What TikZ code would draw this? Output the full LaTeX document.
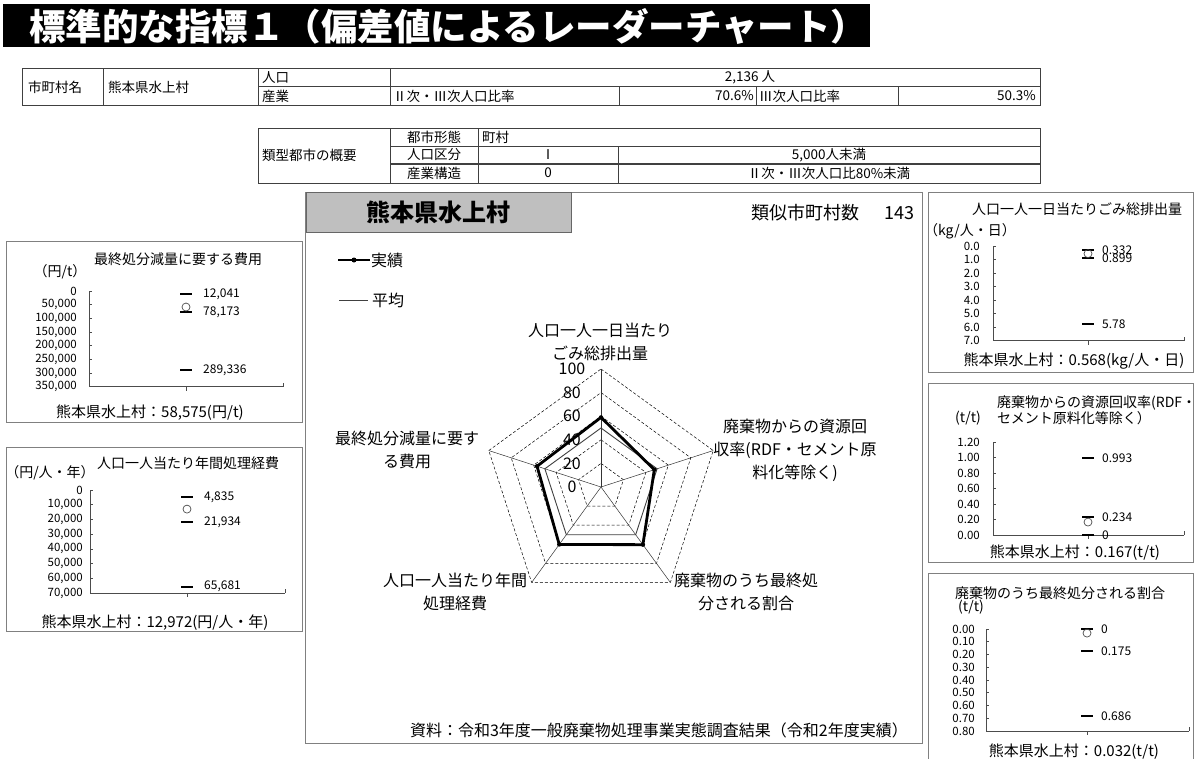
\documentclass[tikz,border=0pt]{standalone}
\usepackage{fontspec}
\setmainfont{Noto Sans CJK JP}
\usetikzlibrary{positioning}
\newcommand{\fsz}[1]{\fontsize{#1}{#1}\selectfont}
\tikzset{
	tline/.style={draw=black!75, line width=0.7pt},
	cellt/.style={inner sep=0pt, font=\fsz{13.5}},
	chartbox/.style={draw=black!50, line width=0.9pt},
	ctitle/.style={inner sep=0pt, font=\fsz{14}},
	cfoot/.style={inner sep=0pt, font=\fsz{15}},
	yval/.style={inner sep=0pt, anchor=east, font=\fsz{11.5}},
	dlabel/.style={inner sep=0pt, anchor=west, font=\fsz{12}},
	axisline/.style={draw=black!70, line width=0.6pt},
	barmark/.style={line width=2pt, black},
	ringmark/.style={draw=black!70, line width=0.7pt},
	ringline/.style={black, densely dashed, line width=0.5pt},
	spoke/.style={black!80, line width=0.5pt},
	actual/.style={black, line width=2.8pt, line join=miter},
	average/.style={black!75, line width=0.9pt},
	rlabel/.style={inner sep=0pt, align=center, font=\fontsize{16}{23}\selectfont},
	scalelab/.style={inner sep=0pt, font=\fsz{16}},
	legtxt/.style={inner sep=0pt, anchor=west, font=\fsz{16}}
}
\begin{document}
\begin{tikzpicture}[x=1pt, y=-1pt]
	\useasboundingbox (0,0) rectangle (1197,758);
	\fill[white] (0,0) rectangle (1197,758);
	\fill[black] (3,4) rectangle (870,47);
	\node[anchor=west, inner sep=0pt, text=white, font=\bfseries\fsz{36.5}] (heading) at (29,26) {標準的な指標１（偏差値によるレーダーチャート）};

	\draw[tline] (22,68) rectangle (1040,105);
	\draw[tline] (258,86.5) -- (1040,86.5);
	\draw[tline] (103,68) -- (103,105) (258,68) -- (258,105) (390,68) -- (390,105);
	\draw[tline] (619,86.5) -- (619,105) (756,86.5) -- (756,105) (898,86.5) -- (898,105);
	\node[cellt, anchor=west] (c-name) at (28,87) {市町村名};
	\node[cellt, anchor=west] (c-city) at (108,87) {熊本県水上村};
	\node[cellt, anchor=west] (c-pop) at (262,77.5) {人口};
	\node[cellt, anchor=west] (c-ind) at (262,96) {産業};
	\node[cellt] (c-popval) at (750,77.5) {2,136 人};
	\node[cellt, anchor=west] (c-r23) at (393,96) {Ⅱ次・Ⅲ次人口比率};
	\node[cellt, anchor=east] (c-r23val) at (754,96) {70.6\%};
	\node[cellt, anchor=west] (c-r3) at (759,96) {Ⅲ次人口比率};
	\node[cellt, anchor=east] (c-r3val) at (1036,96) {50.3\%};

	\draw[tline] (258,128) rectangle (1040,183);
	\draw[tline] (390,146) -- (1040,146);
	\draw[tline, line width=1.3pt] (390,164) -- (1040,164);
	\draw[tline] (390,128) -- (390,183) (478,128) -- (478,183) (618,146) -- (618,183);
	\node[cellt, anchor=west] (t-head) at (262,155) {類型都市の概要};
	\node[cellt] (t-form) at (434,137) {都市形態};
	\node[cellt, anchor=west] (t-formval) at (482,137) {町村};
	\node[cellt] (t-popcls) at (434,155) {人口区分};
	\node[cellt] (t-popcls1) at (548,155) {Ⅰ};
	\node[cellt] (t-popcls2) at (829,155) {5,000人未満};
	\node[cellt] (t-indcls) at (434,173) {産業構造};
	\node[cellt] (t-indcls1) at (548,173) {0};
	\node[cellt] (t-indcls2) at (829,173) {Ⅱ次・Ⅲ次人口比80\%未満};

	\draw[chartbox] (305,192) rectangle (922,743);
	\filldraw[fill=black!25, draw=black!60, line width=0.9pt] (306,192) rectangle (571,232);
	\node[font=\bfseries\fsz{24}, inner sep=0pt] (city) at (438.5,212) {熊本県水上村};
	\node[anchor=east, inner sep=0pt, font=\fsz{18}] (similar) at (915,213) {類似市町村数\hspace{1.4em}143};
	\draw[actual] (338,260) -- (370,260);
	\fill (354,260) circle (2.5pt);
	\node[legtxt] (leg-actual) at (371,260) {実績};
	\draw[average] (339,300) -- (368,300);
	\node[legtxt] (leg-avg) at (372,300) {平均};
	\begin{scope}[shift={(601,487)}, x=1.18pt, y=1.18pt]
		\foreach \r in {20,40,...,100}
			\draw[ringline] (90:\r) -- (18:\r) -- (-54:\r) -- (-126:\r) -- (162:\r) -- cycle;
		\foreach \a in {90,18,-54,-126,162}
			\draw[spoke] (0,0) -- (\a:100);
		\draw[average] (90:50) -- (18:50) -- (-54:50) -- (-126:50) -- (162:50) -- cycle;
		\draw[actual] (90:59) -- (18:47.5) -- (-54:60.4) -- (-126:60.2) -- (162:57) -- cycle;
		\foreach \a/\v in {90/59,18/47.5,-54/60.4,-126/60.2,162/57}
			\fill (\a:\v) circle (2.2pt);
		\foreach \v in {0,20,...,100}
			\node[scalelab] (s\v) at (-24.6,\v) {\v};
	\end{scope}
	\node[rlabel] (ax-top) at (600,342) {人口一人一日当たり\\ごみ総排出量};
	\node[rlabel] (ax-right) at (795,450) {廃棄物からの資源回\\収率(RDF・セメント原\\料化等除く)};
	\node[rlabel] (ax-bright) at (746,591.5) {廃棄物のうち最終処\\分される割合};
	\node[rlabel] (ax-bleft) at (455,591.5) {人口一人当たり年間\\処理経費};
	\node[rlabel] (ax-left) at (407,449.5) {最終処分減量に要す\\る費用};
	\node[anchor=east, inner sep=0pt, font=\fsz{16}] (source) at (908,730) {資料：令和3年度一般廃棄物処理事業実態調査結果（令和2年度実績）};

	\draw[chartbox] (6,241) rectangle (302,422);
	\node[ctitle] (a-title) at (178,259) {最終処分減量に要する費用};
	\node[ctitle] (a-unit) at (60,272) {（円/t）};
	\begin{scope}[shift={(0,291)}, y={(0,-13.67pt)}]
		\foreach \lab [count=\i from 0] in {0,{50,000},{100,000},{150,000},{200,000},{250,000},{300,000},{350,000}}
			\node[yval] (a-y\i) at (77,\i) {\lab};
		\foreach \i in {0,...,7}
			\draw[axisline] (89,\i) -- (92,\i);
		\draw[axisline] (89,0) -- (89,7) -- (283,7);
		\draw[axisline] (186,7) -- ++(0pt,-4pt) (283,7) -- ++(0pt,4pt);
		\draw[barmark] (180,0.2408) -- (192,0.2408) (180,1.5635) -- (192,1.5635) (180,5.7867) -- (192,5.7867);
		\draw[ringmark] (186,1.1715) circle (4pt);
		\node[dlabel] (a-d1) at (203,0.2408) {12,041};
		\node[dlabel] (a-d2) at (203,1.5635) {78,173};
		\node[dlabel] (a-d3) at (203,5.7867) {289,336};
	\end{scope}
	\node[cfoot] (a-foot) at (150,413) {熊本県水上村：58,575(円/t)};

	\draw[chartbox] (6,447) rectangle (302,631);
	\node[ctitle] (b-title) at (188,463) {人口一人当たり年間処理経費};
	\node[ctitle] (b-unit) at (50,473) {（円/人・年）};
	\begin{scope}[shift={(0,490)}, y={(0,-14.71pt)}]
		\foreach \lab [count=\i from 0] in {0,{10,000},{20,000},{30,000},{40,000},{50,000},{60,000},{70,000}}
			\node[yval] (b-y\i) at (83,\i) {\lab};
		\foreach \i in {0,...,7}
			\draw[axisline] (90,\i) -- (93,\i);
		\draw[axisline] (90,0) -- (90,7) -- (285,7);
		\draw[axisline] (187,7) -- ++(0pt,-4pt) (285,7) -- ++(0pt,4pt);
		\draw[barmark] (181,0.4835) -- (193,0.4835) (181,2.1934) -- (193,2.1934) (181,6.5681) -- (193,6.5681);
		\draw[ringmark] (187,1.2972) circle (4pt);
		\node[dlabel] (b-d1) at (204,0.4835) {4,835};
		\node[dlabel] (b-d2) at (204,2.1934) {21,934};
		\node[dlabel] (b-d3) at (204,6.5681) {65,681};
	\end{scope}
	\node[cfoot] (b-foot) at (155,623) {熊本県水上村：12,972(円/人・年)};

	\draw[chartbox] (928,192) rectangle (1193,372);
	\node[ctitle] (c-title) at (1077,209) {人口一人一日当たりごみ総排出量};
	\node[ctitle] (c-unit) at (970,231) {（kg/人・日）};
	\begin{scope}[shift={(0,246)}, y={(0,-13.5pt)}]
		\foreach \lab [count=\i from 0] in {0.0,1.0,2.0,3.0,4.0,5.0,6.0,7.0}
			\node[yval] (c-y\i) at (980,\i) {\lab};
		\foreach \i in {0,...,7}
			\draw[axisline] (993,\i) -- (996,\i);
		\draw[axisline] (993,0) -- (993,7) -- (1184,7);
		\draw[axisline] (1088,7) -- ++(0pt,-4pt) (1184,7) -- ++(0pt,4pt);
		\draw[barmark] (1082,0.332) -- (1094,0.332) (1082,0.899) -- (1094,0.899) (1082,5.78) -- (1094,5.78);
		\draw[ringmark] (1088,0.568) circle (4pt);
		\node[dlabel] (c-d1) at (1102,0.332) {0.332};
		\node[dlabel] (c-d2) at (1102,0.899) {0.899};
		\node[dlabel] (c-d3) at (1102,5.78) {5.78};
	\end{scope}
	\node[cfoot] (c-foot) at (1074,361) {熊本県水上村：0.568(kg/人・日)};

	\draw[chartbox] (928,383) rectangle (1193,562);
	\node[ctitle, anchor=west] (d-title1) at (997,403) {廃棄物からの資源回収率(RDF・};
	\node[ctitle, anchor=west] (d-title2) at (997,418) {セメント原料化等除く）};
	\node[ctitle] (d-unit) at (968,418) {(t/t)};
	\begin{scope}[shift={(0,535)}, y={(0,15.5pt)}]
		\foreach \lab [count=\i from 0] in {0.00,0.20,0.40,0.60,0.80,1.00,1.20}
			\node[yval] (d-y\i) at (980,\i) {\lab};
		\foreach \i in {0,...,6}
			\draw[axisline] (993,\i) -- (996,\i);
		\draw[axisline] (993,6) -- (993,0) -- (1184,0);
		\draw[axisline] (1088,0) -- ++(0pt,-4pt) (1184,0) -- ++(0pt,4pt);
		\draw[barmark] (1082,4.965) -- (1094,4.965) (1082,1.17) -- (1094,1.17) (1082,0) -- (1094,0);
		\draw[ringmark] (1088,0.835) circle (4pt);
		\node[dlabel] (d-d1) at (1102,4.965) {0.993};
		\node[dlabel] (d-d2) at (1102,1.17) {0.234};
		\node[dlabel] (d-d3) at (1102,0) {0};
	\end{scope}
	\node[cfoot] (d-foot) at (1075,553) {熊本県水上村：0.167(t/t)};

	\draw[chartbox] (928,573) rectangle (1193,770);
	\node[ctitle] (e-title) at (1060,593) {廃棄物のうち最終処分される割合};
	\node[ctitle] (e-unit) at (971,607) {(t/t)};
	\begin{scope}[shift={(0,629)}, y={(0,-12.75pt)}]
		\foreach \lab [count=\i from 0] in {0.00,0.10,0.20,0.30,0.40,0.50,0.60,0.70,0.80}
			\node[yval] (e-y\i) at (975,\i) {\lab};
		\foreach \i in {0,...,8}
			\draw[axisline] (986,\i) -- (989,\i);
		\draw[axisline] (986,0) -- (986,8) -- (1189,8);
		\draw[axisline] (1087,8) -- ++(0pt,-4pt) (1189,8) -- ++(0pt,4pt);
		\draw[barmark] (1081,0) -- (1093,0) (1081,1.75) -- (1093,1.75) (1081,6.86) -- (1093,6.86);
		\draw[ringmark] (1087,0.32) circle (4pt);
		\node[dlabel] (e-d1) at (1101,0) {0};
		\node[dlabel] (e-d2) at (1101,1.75) {0.175};
		\node[dlabel] (e-d3) at (1101,6.86) {0.686};
	\end{scope}
	\node[cfoot] (e-foot) at (1074,752) {熊本県水上村：0.032(t/t)};
\end{tikzpicture}
\end{document}
